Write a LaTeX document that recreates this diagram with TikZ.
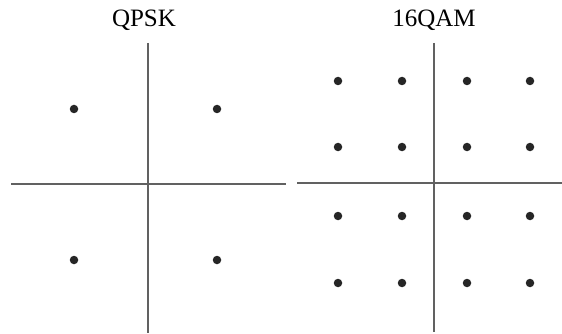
\documentclass[tikz,border=0pt]{standalone}
\usepackage{fontspec}
\setmainfont{Liberation Serif}
\usetikzlibrary{positioning}

\tikzset{
  axis line/.style={draw=black!62, line width=1.2pt},
  symbol dot/.style={circle, fill=black!85, inner sep=0pt, minimum size=8.5pt},
  plot title/.style={anchor=base, inner sep=0pt, font=\fontsize{25}{25}\selectfont},
}

\begin{document}
\begin{tikzpicture}[x=1pt,y=-1pt]
\useasboundingbox (0,0) rectangle (562,334);

% QPSK
\node[plot title] (qpsk title) at (144,27) {QPSK};
\coordinate (qpsk top) at (148,43);
\coordinate (qpsk bottom) at (148,333);
\coordinate (qpsk left) at (11,184);
\coordinate (qpsk right) at (286,184);
\draw[axis line] (qpsk top) -- (qpsk bottom);
\draw[axis line] (qpsk left) -- (qpsk right);
\foreach \x/\i in {74/1,217/2} {
  \foreach \y/\j in {109/1,260/2} {
    \node[symbol dot] (qpsk-\i\j) at (\x,\y) {};
  }
}

% 16QAM
\node[plot title] (qam title) at (434,27) {16QAM};
\coordinate (qam top) at (434,43);
\coordinate (qam bottom) at (434,332);
\coordinate (qam left) at (297,183);
\coordinate (qam right) at (562,183);
\draw[axis line] (qam top) -- (qam bottom);
\draw[axis line] (qam left) -- (qam right);
\foreach \x/\i in {338/1,402/2,467/3,530/4} {
  \foreach \y/\j in {81/1,147/2,216/3,283/4} {
    \node[symbol dot] (qam-\i\j) at (\x,\y) {};
  }
}
\end{tikzpicture}
\end{document}
